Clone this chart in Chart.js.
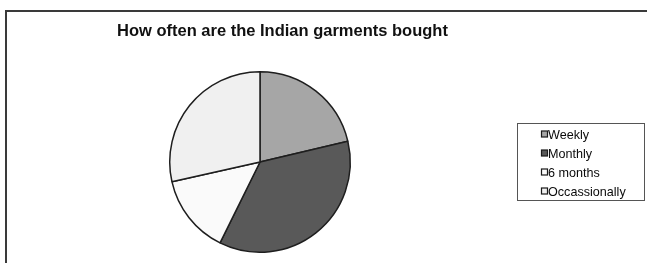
<!DOCTYPE html>
<html>
<head>
<meta charset="utf-8">
<script src="https://cdn.jsdelivr.net/npm/chart.js@4/dist/chart.umd.min.js"></script>
<style>
html,body{margin:0;padding:0;background:#fff;}
#wrap{position:relative;width:647px;height:263px;}
</style>
</head>
<body>
<div id="wrap"><canvas id="c" width="647" height="263"></canvas></div>
<script>
const categories = ["Weekly", "Monthly", "6 months", "Occassionally"];
const values = [21.3, 36.0, 14.2, 28.5];
const colors = ["#a6a6a6", "#595959", "#fafafa", "#f0f0f0"];
const titleText = "How often are the Indian garments bought";

const decor = {
  id: "decor",
  beforeDraw(chart) {
    const ctx = chart.ctx;
    ctx.save();
    ctx.fillStyle = "#fff";
    ctx.fillRect(0, 0, chart.width, chart.height);
    ctx.restore();
  },
  afterDraw(chart) {
    const ctx = chart.ctx;
    ctx.save();
    // outer frame (top + left)
    ctx.strokeStyle = "#3a3a3a";
    ctx.lineWidth = 2;
    ctx.beginPath();
    ctx.moveTo(6, 263);
    ctx.lineTo(6, 11);
    ctx.lineTo(647, 11);
    ctx.stroke();
    // title
    ctx.fillStyle = "#111";
    ctx.font = "bold 16.5px 'Liberation Sans', Arial, sans-serif";
    ctx.textAlign = "left";
    ctx.textBaseline = "alphabetic";
    ctx.fillText(titleText, 117, 35.5);
    // legend box
    ctx.strokeStyle = "#555";
    ctx.lineWidth = 1;
    ctx.strokeRect(517.5, 123.5, 127, 77);
    ctx.font = "12.6px 'Liberation Sans', Arial, sans-serif";
    chart.data.labels.forEach((lab, i) => {
      const y = 138.5 + i * 19;
      ctx.fillStyle = chart.data.datasets[0].backgroundColor[i];
      ctx.fillRect(541.5, y - 7.5, 6, 6);
      ctx.strokeStyle = "#1a1a1a";
      ctx.lineWidth = 1.2;
      ctx.strokeRect(541.5, y - 7.5, 6, 6);
      ctx.fillStyle = "#0a0a0a";
      ctx.fillText(lab, 548, y);
    });
    ctx.restore();
  }
};

new Chart(document.getElementById("c"), {
  type: "pie",
  data: {
    labels: categories,
    datasets: [{
      data: values,
      backgroundColor: colors,
      borderColor: "#1e1e1e",
      borderWidth: 1.5
    }]
  },
  options: {
    responsive: false,
    animation: false,
    layout: { padding: { left: 169, right: 296, top: 71, bottom: 10 } },
    plugins: {
      legend: { display: false },
      title: { display: false },
      tooltip: { enabled: false }
    }
  },
  plugins: [decor]
});
</script>
</body>
</html>
